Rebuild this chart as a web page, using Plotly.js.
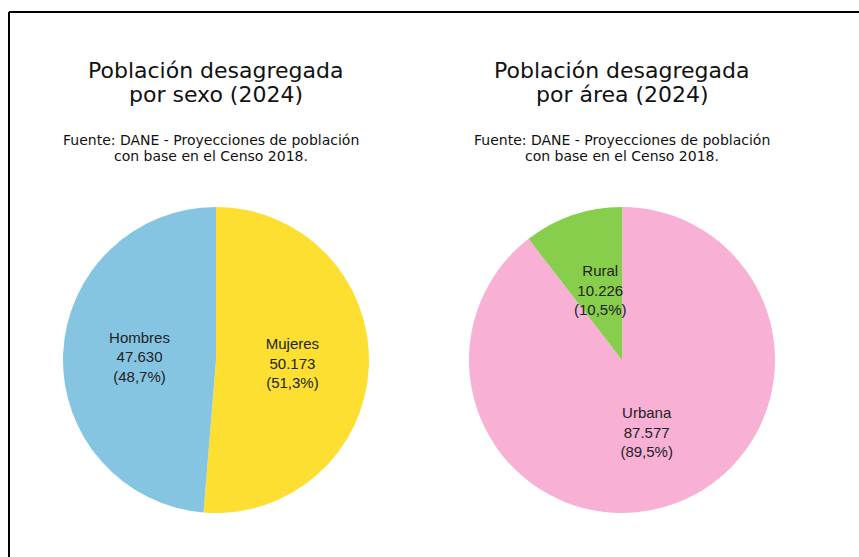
<!DOCTYPE html>
<html>
<head>
<meta charset="utf-8">
<script src="https://cdn.plot.ly/plotly-3.0.1.min.js"></script>
<style>
html,body{margin:0;padding:0;background:#fff;}
#chart{width:859px;height:557px;}
</style>
</head>
<body>
<div id="chart"></div>
<script>
// Data
const sexoLabels = ["Mujeres", "Hombres"];
const sexoValues = [50173, 47630];
const sexoColors = ["#FDDF31", "#86C5E2"];

const areaLabels = ["Urbana", "Rural"];
const areaValues = [87577, 10226];
const areaColors = ["#F8B0D5", "#86CE4B"];

const titleLines1 = ["Población desagregada", "por sexo (2024)"];
const titleLines2 = ["Población desagregada", "por área (2024)"];
const fuenteLines = ["Fuente: DANE - Proyecciones de población", "con base en el Censo 2018."];

const W = 859, H = 557;
const px = x => x / W;
const py = y => 1 - y / H;

const labelFont = {family: "Liberation Sans, Arial, sans-serif", size: 15, color: "#222"};
const tmpl = "%{label}<br>%{value:,}<br>(%{percent:.1%})";

// label for the small slice (drawn as annotation, mirrors texttemplate)
const total2 = areaValues.reduce((a, b) => a + b, 0);
const fmtInt = v => String(v).replace(/\B(?=(\d{3})+(?!\d))/g, ".");
const fmtPct = v => (100 * v / total2).toFixed(1).replace(".", ",") + "%";
const ruralIdx = 1;
const ruralText = areaLabels[ruralIdx] + "<br>" + fmtInt(areaValues[ruralIdx]) + "<br>(" + fmtPct(areaValues[ruralIdx]) + ")";

const traces = [
  {
    type: "pie", labels: sexoLabels, values: sexoValues,
    marker: {colors: sexoColors, line: {width: 0}},
    sort: false, direction: "clockwise", rotation: 0,
    textinfo: "text", texttemplate: tmpl, textposition: "inside",
    insidetextorientation: "horizontal",
    textfont: labelFont, hoverinfo: "label+value+percent",
    domain: {x: [px(63), px(369)], y: [py(513), py(207)]},
    showlegend: false
  },
  {
    type: "pie", labels: areaLabels, values: areaValues,
    marker: {colors: areaColors, line: {width: 0}},
    sort: false, direction: "clockwise", rotation: 0,
    textinfo: "text", texttemplate: tmpl, textposition: ["inside", "none"],
    insidetextorientation: "horizontal",
    textfont: labelFont, hoverinfo: "label+value+percent",
    domain: {x: [px(469), px(775)], y: [py(513), py(207)]},
    showlegend: false
  }
];

const titleFont = {family: "DejaVu Sans, Verdana, sans-serif", size: 22, color: "#111"};
const subFont = {family: "DejaVu Sans, Verdana, sans-serif", size: 14, color: "#111"};

function ann(text, x, y, font) {
  return {text: text, x: px(x), y: py(y), xref: "paper", yref: "paper", showarrow: false,
          font: font, xanchor: "center", yanchor: "middle", align: "center"};
}

const annotations = [
  ann(titleLines1[0], 216, 70, titleFont),
  ann(titleLines1[1], 216, 95, titleFont),
  ann(titleLines2[0], 622, 70, titleFont),
  ann(titleLines2[1], 622, 95, titleFont),
  ann(fuenteLines[0], 211, 140, subFont),
  ann(fuenteLines[1], 211, 156, subFont),
  ann(fuenteLines[0], 622, 140, subFont),
  ann(fuenteLines[1], 622, 156, subFont),
  ann(ruralText, 600, 290, labelFont)
];

const shapes = [
  {type: "line", xref: "paper", yref: "paper", x0: px(9), x1: 1, y0: py(12), y1: py(12), line: {color: "#000", width: 2}},
  {type: "line", xref: "paper", yref: "paper", x0: px(9), x1: px(9), y0: py(12), y1: 0, line: {color: "#000", width: 2}}
];

const layout = {
  width: W, height: H,
  margin: {l: 0, r: 0, t: 0, b: 0},
  paper_bgcolor: "#fff", plot_bgcolor: "#fff",
  separators: ",.",
  annotations: annotations,
  shapes: shapes,
  showlegend: false
};

Plotly.newPlot("chart", traces, layout, {displayModeBar: false, staticPlot: true});
</script>
</body>
</html>
